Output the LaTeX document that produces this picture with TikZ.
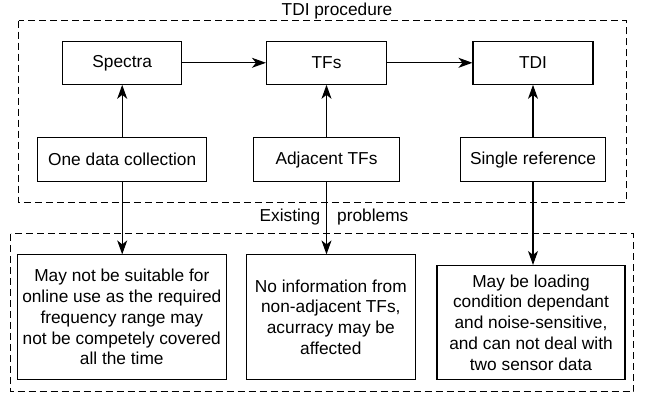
\documentclass[tikz,border=0pt]{standalone}
\usepackage{fontspec}
\setmainfont{Liberation Sans}
\usetikzlibrary{arrows.meta}

\tikzset{
    box/.style={draw, line width=1.1pt, inner sep=2pt, align=center,
        font=\fontsize{17.3}{20.8}\selectfont},
    arrowline/.style={line width=1.1pt, -{Stealth[length=14pt, width=10pt, inset=4pt]}},
    groupframe/.style={draw, line width=1pt, dash pattern=on 7pt off 4pt},
    caption/.style={font=\fontsize{17.3}{20.8}\selectfont, inner sep=0pt}
}

\begin{document}
\begin{tikzpicture}
    \useasboundingbox (0,0) rectangle (646pt,398pt);

        % TDI procedure
        \draw[groupframe] (18.5pt,377.3pt) rectangle (626pt,195.7pt);
        \node[caption] (proc) at (337pt,387pt) {TDI procedure};
        \node[box, minimum width=119pt, minimum height=43pt] (spectra) at (122.2pt,335.2pt) {Spectra};
        \node[box, minimum width=120pt, minimum height=43pt] (tfs) at (326.5pt,335.2pt) {TFs};
        \node[box, minimum width=120pt, minimum height=43pt] (tdi) at (533pt,335.2pt) {TDI};
        \node[box, minimum width=169pt, minimum height=44pt] (onedata) at (122.2pt,238.3pt) {One data collection};
        \node[box, minimum width=146pt, minimum height=44pt] (adjtf) at (326.5pt,238.3pt) {Adjacent TFs};
        \node[box, minimum width=145pt, minimum height=44pt] (singleref) at (533pt,238.3pt) {Single reference};
        \draw[arrowline] (spectra.east) -- (tfs.west);
        \draw[arrowline] (tfs.east) -- (tdi.west);
        \draw[arrowline] (onedata.north) -- (spectra.south);
        \draw[arrowline] (adjtf.north) -- (tfs.south);
        \draw[arrowline] (singleref.north) -- (tdi.south);

        % Existing problems
        \draw[groupframe] (10.5pt,164pt) rectangle (633.5pt,6pt);
        \node[caption] (prob) at (334pt,181pt) {Existing\hspace{17pt}problems};
        \node[box, minimum width=208.5pt, minimum height=124.5pt] (prob1) at (121.8pt,80.8pt)
            {May not be suitable for\\online use as the required\\frequency range may\\not be competely covered\\all the time};
        \node[box, minimum width=168.7pt, minimum height=124.5pt] (prob2) at (330.8pt,80.8pt)
            {No information from\\non-adjacent TFs,\\acurracy may be\\affected};
        \node[box, minimum width=188pt, minimum height=114pt] (prob3) at (531pt,75.5pt)
            {May be loading\\condition dependant\\and noise-sensitive,\\and can not deal with\\two sensor data};
        \draw[arrowline] (onedata.south) -- (onedata.south |- prob1.north);
        \draw[arrowline] (adjtf.south) -- (adjtf.south |- prob2.north);
        \draw[arrowline] (singleref.south) -- (singleref.south |- prob3.north);

\end{tikzpicture}
\end{document}
